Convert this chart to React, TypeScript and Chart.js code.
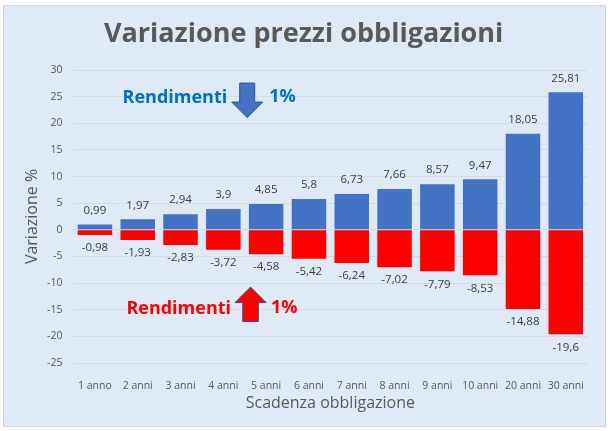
import React, { useEffect, useRef } from "react";
import { Chart, registerables } from "chart.js";

Chart.register(...registerables);

const categories = [
  "1 anno", "2 anni", "3 anni", "4 anni", "5 anni", "6 anni",
  "7 anni", "8 anni", "9 anni", "10 anni", "20 anni", "30 anni",
];
const changeYieldsDown = [0.99, 1.97, 2.94, 3.9, 4.85, 5.8, 6.73, 7.66, 8.57, 9.47, 18.05, 25.81];
const changeYieldsUp = [-0.98, -1.93, -2.83, -3.72, -4.58, -5.42, -6.24, -7.02, -7.79, -8.53, -14.88, -19.6];
const yMin = -25;
const yMax = 30;
const yStep = 5;

const FONT = "'Open Sans', 'DejaVu Sans', sans-serif";
const GREY = "#595959";
const BLUE = "#4472c4";
const RED = "#ff0000";

const fmt = (v: number) => String(v).replace(".", ",");

const backgroundPlugin = {
  id: "bgPanel",
  beforeDraw(chart: any) {
    const { ctx, width, height } = chart;
    ctx.save();
    ctx.fillStyle = "#ffffff";
    ctx.fillRect(0, 0, width, height);
    ctx.fillStyle = "#deebf7";
    ctx.fillRect(3, 5, width - 5, height - 9);
    ctx.strokeStyle = "#d4d4d4";
    ctx.lineWidth = 1;
    ctx.strokeRect(3.5, 5.5, width - 6, height - 10);
    ctx.restore();
  },
};

const valueLabelPlugin = {
  id: "valueLabels",
  afterDatasetsDraw(chart: any) {
    const { ctx } = chart;
    ctx.save();
    ctx.font = `11.5px ${FONT}`;
    ctx.fillStyle = "#404040";
    ctx.textAlign = "center";
    ctx.textBaseline = "middle";
    chart.data.datasets.forEach((ds: any, di: number) => {
      const meta = chart.getDatasetMeta(di);
      meta.data.forEach((el: any, i: number) => {
        const v = ds.data[i];
        const y = v >= 0 ? el.y - 14 : el.y + 13;
        ctx.fillText(fmt(v), el.x, y);
      });
    });
    ctx.restore();
  },
};

function drawArrow(ctx: any, cx: number, tipY: number, baseY: number, endY: number, headHalf: number, shaftHalf: number, fill: string) {
  ctx.beginPath();
  ctx.moveTo(cx, tipY);
  ctx.lineTo(cx + headHalf, baseY);
  ctx.lineTo(cx + shaftHalf, baseY);
  ctx.lineTo(cx + shaftHalf, endY);
  ctx.lineTo(cx - shaftHalf, endY);
  ctx.lineTo(cx - shaftHalf, baseY);
  ctx.lineTo(cx - headHalf, baseY);
  ctx.closePath();
  ctx.fillStyle = fill;
  ctx.fill();
  ctx.strokeStyle = "#2f528f";
  ctx.lineWidth = 1;
  ctx.stroke();
}

const annotationPlugin = {
  id: "yieldNotes",
  afterDraw(chart: any) {
    const { ctx, scales } = chart;
    const xs = scales.x;
    const ys = scales.y;
    ctx.save();
    ctx.font = `bold 18px ${FONT}`;
    ctx.textBaseline = "alphabetic";

    // Blue note (yields down 1%)
    const bx = xs.getPixelForValue(3.558);
    const by = ys.getPixelForValue(25.2);
    ctx.fillStyle = "#0070c0";
    ctx.textAlign = "right";
    ctx.fillText("Rendimenti", bx - 20, by + 7);
    ctx.textAlign = "left";
    ctx.fillText("1%", bx + 22, by + 6);
    drawArrow(ctx, bx, by + 22, by + 6.5, by - 12.5, 15.5, 7.5, BLUE);

    // Red note (yields up 1%)
    const rx = xs.getPixelForValue(3.636);
    const ry = ys.getPixelForValue(-14.5);
    ctx.fillStyle = RED;
    ctx.textAlign = "right";
    ctx.fillText("Rendimenti", rx - 19.5, ry + 7);
    ctx.textAlign = "left";
    ctx.fillText("1%", rx + 20.5, ry + 6);
    drawArrow(ctx, rx, ry - 20, ry - 4.5, ry + 14.5, 15.5, 7.8, RED);

    ctx.restore();
  },
};

export default function App() {
  const ref = useRef<HTMLCanvasElement>(null);

  useEffect(() => {
    Chart.defaults.font.family = FONT;
    const chart = new Chart(ref.current as HTMLCanvasElement, {
      type: "bar",
      data: {
        labels: categories,
        datasets: [
          {
            label: "Rendimenti -1%",
            data: changeYieldsDown,
            backgroundColor: BLUE,
            barPercentage: 0.806,
            categoryPercentage: 1,
          },
          {
            label: "Rendimenti +1%",
            data: changeYieldsUp,
            backgroundColor: RED,
            barPercentage: 0.806,
            categoryPercentage: 1,
          },
        ],
      },
      options: {
        responsive: false,
        animation: false,
        devicePixelRatio: 1,
        layout: { padding: { top: 5, left: 20, right: 20.8, bottom: 10 } },
        plugins: {
          legend: { display: false },
          tooltip: { enabled: false },
          title: {
            display: true,
            text: "Variazione prezzi obbligazioni",
            color: GREY,
            font: { family: FONT, size: 27, weight: "bold" },
            padding: { top: 13.3, bottom: 19.3 },
          },
        },
        scales: {
          x: {
            stacked: true,
            grid: { display: false },
            border: { display: false },
            ticks: {
              color: GREY,
              font: { family: FONT, size: 10.5 },
              padding: 8.4,
              maxRotation: 0,
              autoSkip: false,
            },
            title: {
              display: true,
              text: "Scadenza obbligazione",
              color: GREY,
              font: { family: FONT, size: 16 },
              padding: { top: 0, bottom: 7.6 },
            },
            afterFit: (s: any) => {
              s.height = 58;
            },
          },
          y: {
            stacked: true,
            min: yMin,
            max: yMax,
            grid: { color: "#d9d9d9", drawTicks: false },
            border: { display: false },
            ticks: {
              stepSize: yStep,
              color: GREY,
              font: { family: FONT, size: 10.5 },
              padding: 11,
            },
            title: {
              display: true,
              text: "Variazione %",
              color: GREY,
              font: { family: FONT, size: 16 },
              padding: { top: 2.5, bottom: 0 },
            },
            afterFit: (s: any) => {
              s.width = 53.5;
            },
          },
        },
      } as any,
      plugins: [backgroundPlugin, valueLabelPlugin, annotationPlugin],
    });
    return () => chart.destroy();
  }, []);

  return (
    <div style={{ position: "fixed", left: 0, top: 0, width: 608, height: 431 }}>
      <canvas ref={ref} width={608} height={431} style={{ display: "block" }} />
    </div>
  );
}
